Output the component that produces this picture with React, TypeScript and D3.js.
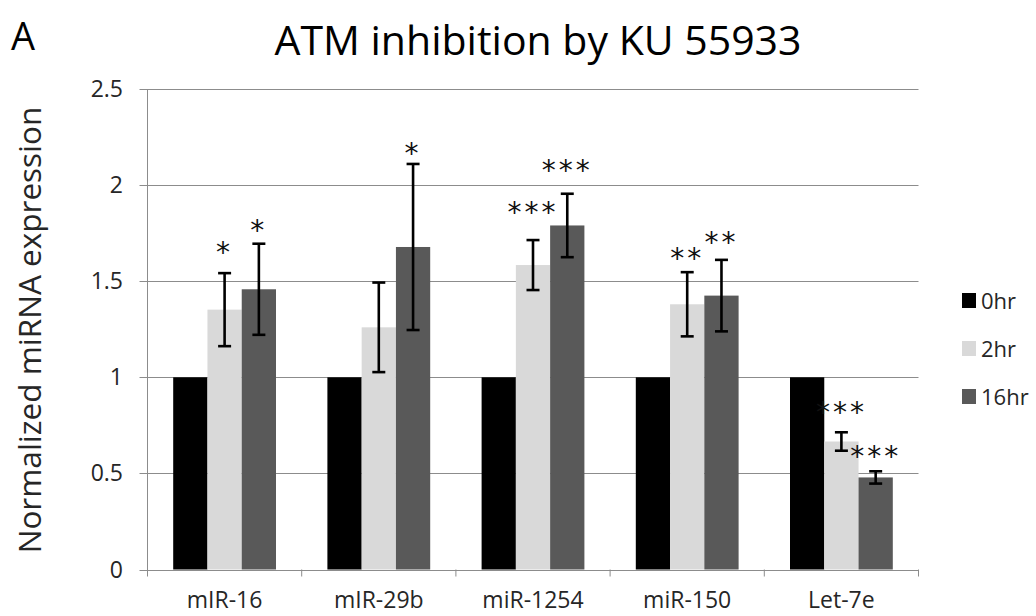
import * as d3 from "d3";
import { useEffect, useRef } from "react";

// --- chart data ---
const categories = ["mIR-16", "mIR-29b", "miR-1254", "miR-150", "Let-7e"];
const seriesNames = ["0hr", "2hr", "16hr"];
const seriesColors = ["#000000", "#d9d9d9", "#595959"];

// mean expression per series, one value per category
const values0hr = [1, 1, 1, 1, 1];
const values2hr = [1.352, 1.26, 1.584, 1.38, 0.666];
const values16hr = [1.458, 1.678, 1.79, 1.425, 0.479];

// error bar half-widths (0hr has none)
const err2hr = [0.19, 0.233, 0.13, 0.167, 0.048];
const err16hr = [0.237, 0.432, 0.165, 0.186, 0.032];

// significance marks: text and height (in data units) of the mark centre
const stars2hr = ["*", "", "***", "**", "***"];
const starsAt2hr = [1.68, 0, 1.884, 1.647, 0.846];
const stars16hr = ["*", "*", "***", "**", "***"];
const starsAt16hr = [1.79, 2.194, 2.102, 1.73, 0.617];

const yTicks = [0, 0.5, 1, 1.5, 2, 2.5];
const yTickLabels = ["0", "0.5", "1", "1.5", "2", "2.5"];

const FONT = "'Open Sans', sans-serif";

const App = () => {
  const svgRef = useRef(null);

  useEffect(() => {
    if (!svgRef.current) return;
    const svg = d3.select(svgRef.current);
    svg.selectAll("*").remove();

    const left = 147.5;
    const right = 918.5;
    const top = 89;
    const bottom = 569.5;

    const x0 = d3.scaleBand().domain(categories).range([left, right]).padding(0);
    // Excel style gap width of 150%
    const x1 = d3
      .scaleBand()
      .domain(seriesNames)
      .range([0, x0.bandwidth()])
      .paddingInner(0)
      .paddingOuter(0.75);
    const y = d3.scaleLinear().domain([0, 2.5]).range([bottom, top]);

    const table = [values0hr, values2hr, values16hr];
    const errs = [null, err2hr, err16hr];

    // gridlines + y tick marks
    const grid = svg.append("g").attr("stroke", "#8c8c8c").attr("stroke-width", 1);
    yTicks.forEach((t) => {
      grid
        .append("line")
        .attr("x1", left - 8)
        .attr("x2", right)
        .attr("y1", Math.round(y(t)) + 0.5)
        .attr("y2", Math.round(y(t)) + 0.5);
    });
    // y axis line
    grid
      .append("line")
      .attr("x1", left)
      .attr("x2", left)
      .attr("y1", top)
      .attr("y2", bottom + 6);
    // x tick marks at category borders
    [...categories.map((c) => x0(c)), right].forEach((xv) => {
      grid
        .append("line")
        .attr("x1", xv)
        .attr("x2", xv)
        .attr("y1", bottom)
        .attr("y2", bottom + 7);
    });

    // y tick labels
    svg
      .append("g")
      .selectAll("text")
      .data(yTicks)
      .join("text")
      .attr("x", 123)
      .attr("y", (d) => y(d) + 8)
      .attr("text-anchor", "end")
      .attr("font-family", FONT)
      .attr("font-size", 23)
      .attr("fill", "#262626")
      .text((d, i) => yTickLabels[i]);

    // bars
    seriesNames.forEach((s, si) => {
      svg
        .append("g")
        .selectAll("rect")
        .data(categories)
        .join("rect")
        .attr("x", (c) => x0(c) + x1(s))
        .attr("width", x1.bandwidth())
        .attr("y", (c, i) => y(table[si][i]))
        .attr("height", (c, i) => y(0) - y(table[si][i]))
        .attr("fill", seriesColors[si]);
    });

    // error bars
    const eg = svg.append("g").attr("stroke", "#000").attr("stroke-width", 2.6);
    seriesNames.forEach((s, si) => {
      const e = errs[si];
      if (!e) return;
      categories.forEach((c, i) => {
        const cx = x0(c) + x1(s) + x1.bandwidth() / 2;
        const hi = y(table[si][i] + e[i]);
        const lo = y(table[si][i] - e[i]);
        eg.append("line").attr("x1", cx).attr("x2", cx).attr("y1", hi).attr("y2", lo);
        eg.append("line").attr("x1", cx - 6.5).attr("x2", cx + 6.5).attr("y1", hi).attr("y2", hi);
        eg.append("line").attr("x1", cx - 6.5).attr("x2", cx + 6.5).attr("y1", lo).attr("y2", lo);
      });
    });

    // significance stars
    const marks = [
      { s: "2hr", text: stars2hr, at: starsAt2hr },
      { s: "16hr", text: stars16hr, at: starsAt16hr },
    ];
    const sg = svg.append("g");
    marks.forEach((m) => {
      categories.forEach((c, i) => {
        if (!m.text[i]) return;
        const cx = x0(c) + x1(m.s) + x1.bandwidth() / 2;
        sg.append("text")
          .attr("x", cx)
          .attr("y", y(m.at[i]) + 15)
          .attr("text-anchor", "middle")
          .attr("font-family", "'DejaVu Sans', sans-serif")
          .attr("font-size", 28)
          .attr("letter-spacing", 3)
          .attr("fill", "#111")
          .text(m.text[i]);
      });
    });

    // x labels
    svg
      .append("g")
      .selectAll("text")
      .data(categories)
      .join("text")
      .attr("x", (c) => x0(c) + x0.bandwidth() / 2)
      .attr("y", 608)
      .attr("text-anchor", "middle")
      .attr("font-family", FONT)
      .attr("font-size", 23)
      .attr("fill", "#262626")
      .text((c) => c);

    // legend
    const lg = svg.append("g");
    seriesNames.forEach((s, i) => {
      const cy = 300.5 + i * 48;
      lg.append("rect")
        .attr("x", 962)
        .attr("y", cy - 7.5)
        .attr("width", 14)
        .attr("height", 15)
        .attr("fill", seriesColors[i]);
      lg.append("text")
        .attr("x", 981)
        .attr("y", cy + 8)
        .attr("font-family", FONT)
        .attr("font-size", 22)
        .attr("fill", "#262626")
        .text(s);
    });

    // title, panel letter, y axis title
    svg
      .append("text")
      .attr("x", 538)
      .attr("y", 55)
      .attr("text-anchor", "middle")
      .attr("font-family", FONT)
      .attr("font-size", 41)
      .attr("fill", "#000")
      .text("ATM inhibition by KU 55933");

    svg
      .append("text")
      .attr("x", 11)
      .attr("y", 50)
      .attr("font-family", FONT)
      .attr("font-size", 38)
      .attr("fill", "#000")
      .text("A");

    svg
      .append("text")
      .attr("transform", "translate(41,330) rotate(-90)")
      .attr("text-anchor", "middle")
      .attr("font-family", FONT)
      .attr("font-size", 31.5)
      .attr("fill", "#262626")
      .text("Normalized miRNA expression");
  }, []);

  return (
    <svg
      ref={svgRef}
      width={1036}
      height={616}
      style={{ position: "absolute", left: 0, top: 0, background: "#fff" }}
    />
  );
};

export default App;
